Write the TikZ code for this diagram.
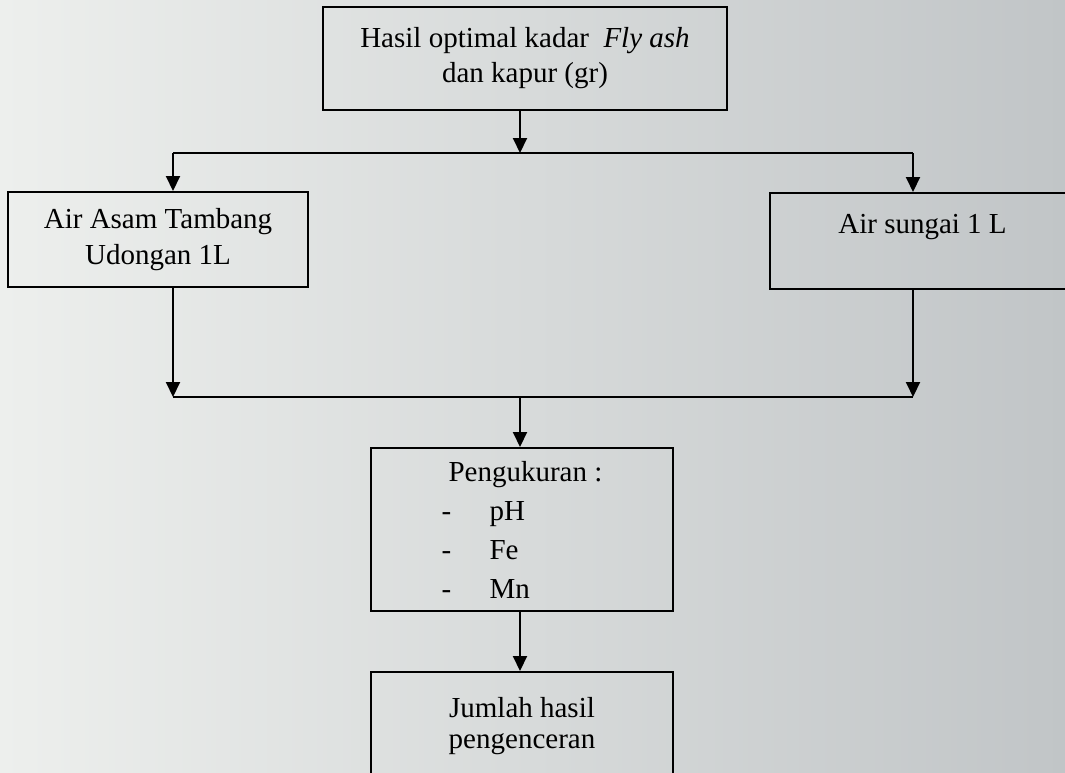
\documentclass[tikz,border=0pt]{standalone}
\usepackage{fontspec}
\setmainfont{Liberation Serif}
\usetikzlibrary{arrows.meta}
\definecolor{bgL}{RGB}{237,239,237}
\definecolor{bgR}{RGB}{193,197,199}
\tikzset{
  box/.style={draw, line width=2pt, inner sep=0pt, align=center, font=\fontsize{29}{36}\selectfont},
  conn/.style={line width=2pt},
  arr/.style={line width=2pt, -{Triangle[width=14pt,length=15pt]}},
}
\begin{document}
\begin{tikzpicture}[x=1pt,y=-1pt]
\useasboundingbox (0,0) rectangle (1065,772);
\clip (0,0) rectangle (1065,772);
\shade[left color=bgL, right color=bgR] (0,0) rectangle (1065,772);
% boxes
\node[box, minimum width=404pt, minimum height=103pt, font=\fontsize{29}{35}\selectfont] (top) at (525,58.5) {Hasil optimal kadar \ \textit{Fly ash}\\dan kapur (gr)};
\node[box, minimum width=300pt, minimum height=95pt] (left) at (158,239.5) {Air Asam Tambang\\Udongan 1L};
\node[box, minimum width=305pt, text height=40pt, text depth=56pt, anchor=north] (right) at (922.5,192) {Air sungai 1 L};
\node[box, minimum width=302pt, minimum height=163pt, align=left, font=\fontsize{29}{39}\selectfont] (meas) at (522,529.5) {\hspace{7pt}Pengukuran :\\\makebox[48pt][l]{-}pH\\\makebox[48pt][l]{-}Fe\\\makebox[48pt][l]{-}Mn};
\node[box, minimum width=302pt, minimum height=108pt, font=\fontsize{29}{31}\selectfont] (res) at (522,726) {Jumlah hasil\\pengenceran};
% split
\coordinate (s) at (520,153);
\coordinate (sl) at (173,153);
\coordinate (sr) at (913,153);
\draw[arr] (top.south -| s) -- (s);
\draw[conn] (sl) -- (sr);
\draw[arr] (sl) -- (sl |- left.north);
\draw[arr] (sr) -- (sr |- right.north);
% merge
\coordinate (ml) at (173,397);
\coordinate (mr) at (913,397);
\coordinate (m) at (520,397);
\draw[arr] (left.south -| ml) -- (ml);
\draw[arr] (right.south -| mr) -- (mr);
\draw[conn] (ml) -- (mr);
\draw[arr] (m) -- (m |- meas.north);
\draw[arr] (meas.south -| m) -- (m |- res.north);
\end{tikzpicture}
\end{document}
